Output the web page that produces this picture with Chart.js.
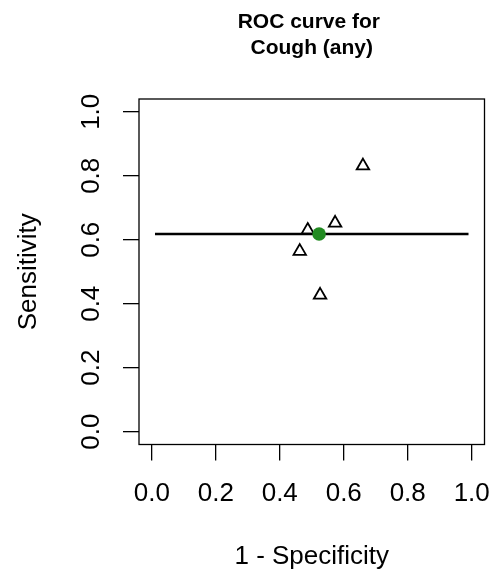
<!DOCTYPE html>
<html>
<head>
<meta charset="utf-8">
<script src="https://cdn.jsdelivr.net/npm/chart.js@4/dist/chart.umd.min.js"></script>
<style>
  html, body { margin: 0; padding: 0; background: #fff; }
  #roc { display: block; }
</style>
</head>
<body>
<canvas id="roc" width="496" height="574"></canvas>
<script>
// Individual study estimates (1 - specificity, sensitivity)
const studyFpr = [0.660, 0.573, 0.4875, 0.4625, 0.526];
const studyTpr = [0.831, 0.652, 0.630, 0.564, 0.427];

// Summary operating point
const summaryFpr = [0.523];
const summaryTpr = [0.618];

// Summary ROC curve (flat at the summary sensitivity)
const curveFpr = [0.01, 0.99];
const curveTpr = [0.618, 0.618];

// Axis ticks
const tickValues = [0.0, 0.2, 0.4, 0.6, 0.8, 1.0];

const FONT = '"Liberation Sans", Arial, Helvetica, sans-serif';

const toPoints = (xs, ys) => xs.map((x, i) => ({ x: x, y: ys[i] }));

// Frame around the plotting region
const frame = {
  id: 'frame',
  afterDatasetsDraw(chart) {
    const { ctx, chartArea: a } = chart;
    ctx.save();
    ctx.strokeStyle = '#000';
    ctx.lineWidth = 1.3;
    ctx.strokeRect(a.left, a.top, a.right - a.left, a.bottom - a.top);
    ctx.restore();
  }
};

const fixedTicks = scale => {
  scale.ticks = tickValues.map(v => ({ value: v }));
};

// Fixed axis box sizes; overflowing tick labels must not shrink the plot
const fitX = s => {
  s.height = 129.5;
  s.paddingLeft = 0;
  s.paddingRight = 0;
};
const fitY = s => {
  s.width = 139;
  s.paddingTop = 0;
  s.paddingBottom = 0;
};

Chart.defaults.color = '#000';
Chart.defaults.font.family = FONT;

new Chart(document.getElementById('roc'), {
  type: 'scatter',
  data: {
    datasets: [
      {
        label: 'Summary point',
        data: toPoints(summaryFpr, summaryTpr),
        pointStyle: 'circle',
        pointRadius: 6.8,
        pointBackgroundColor: '#228B22',
        pointBorderColor: '#228B22',
        pointBorderWidth: 0,
        order: 0
      },
      {
        label: 'SROC curve',
        type: 'line',
        data: toPoints(curveFpr, curveTpr),
        borderColor: '#000',
        borderWidth: 2.6,
        pointRadius: 0,
        fill: false,
        tension: 0,
        order: 1
      },
      {
        label: 'Studies',
        data: toPoints(studyFpr, studyTpr),
        pointStyle: 'triangle',
        pointRadius: 7.2,
        pointBackgroundColor: 'rgba(0,0,0,0)',
        pointBorderColor: '#000',
        pointBorderWidth: 1.8,
        order: 2
      }
    ]
  },
  options: {
    responsive: false,
    animation: false,
    events: [],
    layout: { padding: { left: 0, right: 11.5, top: 0, bottom: 0 } },
    plugins: {
      legend: { display: false },
      tooltip: { enabled: false },
      title: {
        display: true,
        fullSize: false,
        text: ['ROC curve for ', 'Cough (any)'],
        color: '#000',
        font: { family: FONT, size: 21, weight: 'bold', lineHeight: 1.2 },
        padding: { top: 10, bottom: 38.6 }
      }
    },
    scales: {
      x: {
        type: 'linear',
        min: -0.04,
        max: 1.04,
        afterBuildTicks: fixedTicks,
        afterFit: fitX,
        border: { display: false },
        grid: {
          display: true,
          drawOnChartArea: false,
          drawTicks: true,
          tickLength: 16,
          color: '#000',
          lineWidth: 1.3
        },
        ticks: {
          font: { family: FONT, size: 26 },
          color: '#000',
          padding: 18.2,
          maxRotation: 0,
          minRotation: 0,
          callback: v => v.toFixed(1)
        },
        title: {
          display: true,
          text: '1 - Specificity',
          color: '#000',
          font: { family: FONT, size: 26, lineHeight: 1.2 },
          padding: { top: 0, bottom: 1.4 }
        }
      },
      y: {
        type: 'linear',
        min: -0.04,
        max: 1.04,
        afterBuildTicks: fixedTicks,
        afterFit: fitY,
        border: { display: false },
        grid: {
          display: true,
          drawOnChartArea: false,
          drawTicks: true,
          tickLength: 16,
          color: '#000',
          lineWidth: 1.3
        },
        ticks: {
          font: { family: FONT, size: 26 },
          color: '#000',
          padding: 12.9,
          minRotation: 90,
          maxRotation: 90,
          crossAlign: 'center',
          callback: v => v.toFixed(1)
        },
        title: {
          display: true,
          text: 'Sensitivity',
          color: '#000',
          font: { family: FONT, size: 26, lineHeight: 1.2 },
          padding: { top: 13.4, bottom: 0 }
        }
      }
    }
  },
  plugins: [frame]
});
</script>
</body>
</html>
